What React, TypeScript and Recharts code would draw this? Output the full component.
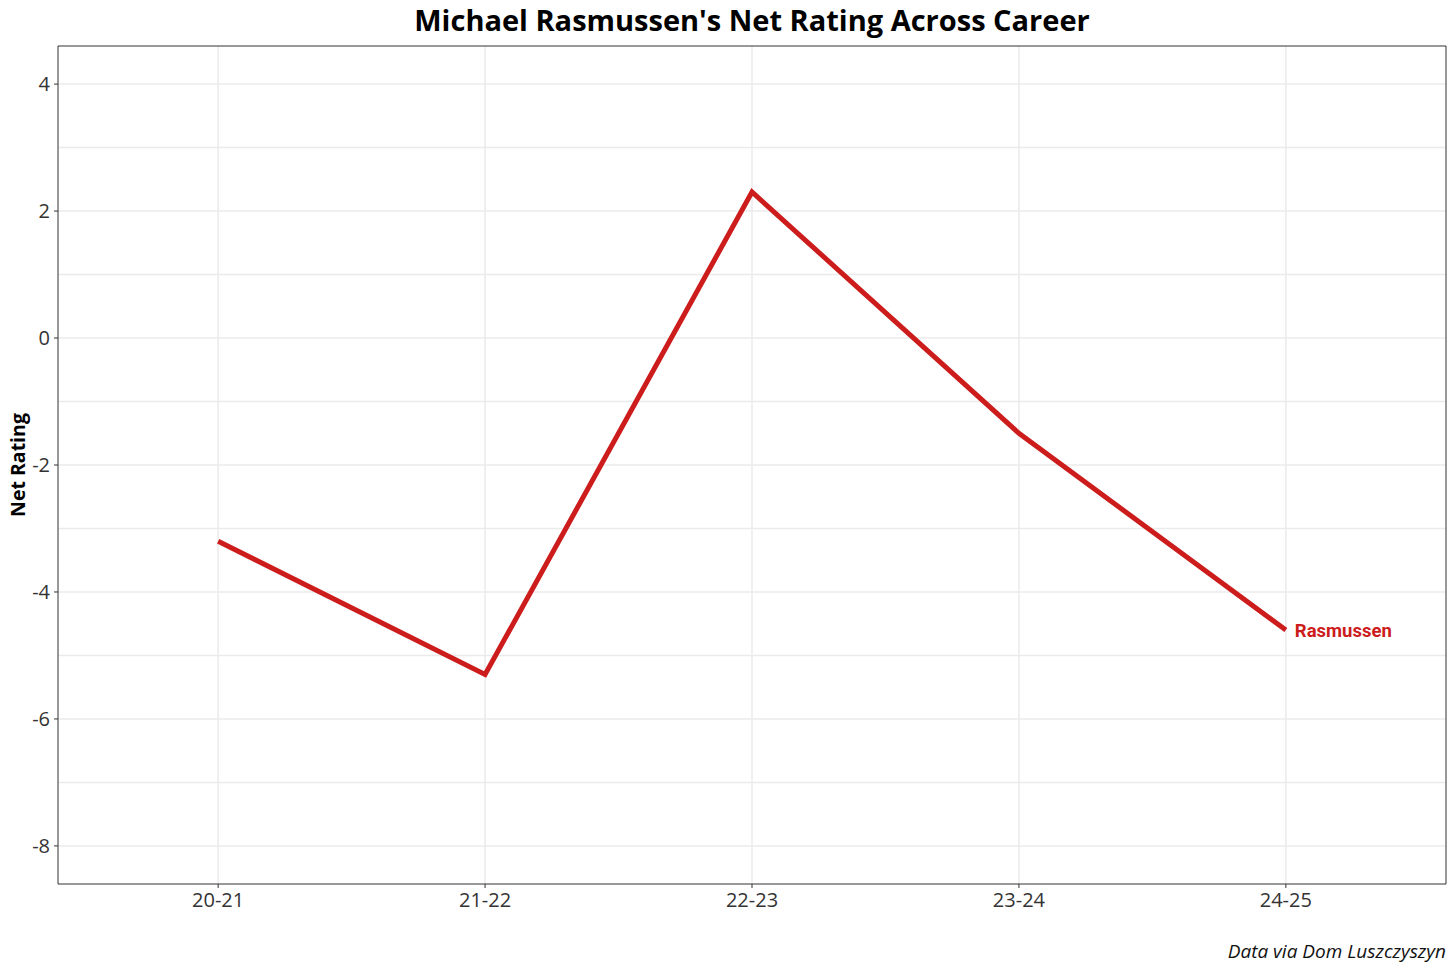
import { CartesianGrid, LabelList, Line, LineChart, ReferenceLine, XAxis, YAxis } from 'recharts';

const seasons = ['20-21', '21-22', '22-23', '23-24', '24-25'];
const netRating = [-3.2, -5.3, 2.3, -1.5, -4.6];
const yTicks = [-8, -6, -4, -2, 0, 2, 4];
const gridValues = [-8, -7, -6, -5, -4, -3, -2, -1, 0, 1, 2, 3, 4];

const data = seasons.map((season, i) => ({ idx: i, season, value: netRating[i] }));

const fontFamily = '"Open Sans", "Noto Sans", sans-serif';
const red = '#cc1c1c';

function EndLabel(props: any) {
  const { x, y, index } = props;
  if (index !== data.length - 1) return null;
  return (
    <text
      x={x + 9}
      y={y + 2}
      fill={red}
      fontSize={18.5}
      fontWeight={700}
      fontFamily="Roboto, sans-serif"
      dominantBaseline="middle"
    >
      Rasmussen
    </text>
  );
}

export default function App() {
  return (
    <div style={{ position: 'absolute', left: 0, top: 0, width: 1456, height: 971, background: '#fff' }}>
      <div
        style={{
          position: 'absolute',
          left: 58,
          width: 1388,
          top: 0,
          textAlign: 'center',
          fontFamily,
          fontWeight: 700,
          fontSize: 29,
          lineHeight: '40px',
          color: '#000',
        }}
      >
        Michael Rasmussen's Net Rating Across Career
      </div>
      <div
        style={{
          position: 'absolute',
          left: 17,
          top: 465,
          transform: 'translate(-50%, -50%) rotate(-90deg)',
          fontFamily,
          fontWeight: 700,
          fontSize: 19.5,
          whiteSpace: 'nowrap',
        }}
      >
        Net Rating
      </div>
      <div
        style={{
          position: 'absolute',
          right: 10,
          top: 937,
          fontFamily,
          fontStyle: 'italic',
          fontSize: 19,
          lineHeight: '28px',
          color: '#111',
        }}
      >
        Data via Dom Luszczyszyn
      </div>
      <div style={{ position: 'absolute', left: 0, top: 0 }}>
        <LineChart width={1456} height={971} data={data} margin={{ top: 46, right: 10, left: 8, bottom: 57 }}>
          <CartesianGrid
            stroke="#ebebeb"
            strokeWidth={1.5}
            horizontalValues={gridValues}
            verticalValues={[0, 1, 2, 3, 4]}
          />
          <XAxis
            type="number"
            dataKey="idx"
            domain={[-0.6, 4.6]}
            ticks={[0, 1, 2, 3, 4]}
            tickFormatter={(v: number) => seasons[v]}
            height={30}
            axisLine={{ stroke: '#333', strokeWidth: 1 }}
            tickLine={{ stroke: '#333' }}
            tickSize={4}
            tickMargin={5}
            tick={{ fontSize: 20, fill: '#333', fontFamily }}
            allowDataOverflow
          />
          <YAxis
            type="number"
            domain={[-8.6, 4.6]}
            ticks={yTicks}
            width={50}
            axisLine={{ stroke: '#333', strokeWidth: 1 }}
            tickLine={{ stroke: '#333' }}
            tickSize={4}
            tickMargin={4}
            tick={{ fontSize: 20, fill: '#333', fontFamily }}
            allowDataOverflow
          />
          <ReferenceLine y={4.6} stroke="#333" strokeWidth={1} />
          <ReferenceLine x={4.6} stroke="#333" strokeWidth={1} />
          <Line
            type="linear"
            dataKey="value"
            stroke={red}
            strokeWidth={5}
            dot={false}
            activeDot={false}
            isAnimationActive={false}
          >
            <LabelList dataKey="value" content={<EndLabel />} />
          </Line>
        </LineChart>
      </div>
    </div>
  );
}
